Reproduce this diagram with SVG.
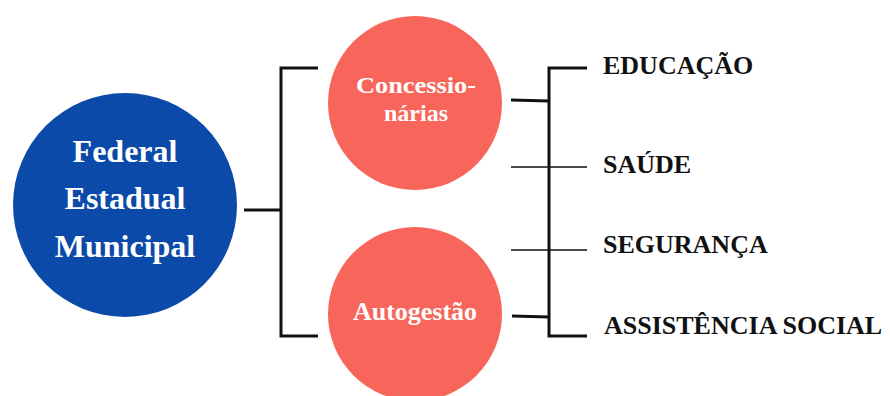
<svg xmlns="http://www.w3.org/2000/svg" width="890" height="396" viewBox="0 0 890 396">
<style>
.t{font-family:"Liberation Serif","Times New Roman",serif;font-weight:bold}
.w{fill:#fff}
.k{fill:#111;font-size:26px}
.thick{stroke:#111;stroke-width:3;fill:none}
.thin{stroke:#111;stroke-width:1.5;fill:none}
</style>
<rect width="890" height="396" fill="#fff"/>
<g id="connectors">
<path class="thick" d="M244 210H281M318 68H281V336H318"/>
<path class="thick" d="M587 68H549V336H587M511 100L549 101M512 316L549 317"/>
<path class="thin" d="M511 167H587M511 250H587"/>
</g>
<g id="gov">
<circle cx="125" cy="205" r="112" fill="#0B4AA8"/>
<text class="t w" font-size="32" text-anchor="middle"><tspan x="125" y="162">Federal</tspan><tspan x="125" y="209">Estadual</tspan><tspan x="125" y="257">Municipal</tspan></text>
</g>
<g id="concessionarias">
<circle cx="415" cy="103" r="87" fill="#F8655A"/>
<text class="t w" font-size="24" text-anchor="middle"><tspan x="416" y="93" textLength="120" lengthAdjust="spacingAndGlyphs">Concessio-</tspan><tspan x="416" y="121">nárias</tspan></text>
</g>
<g id="autogestao">
<circle cx="415" cy="314" r="87" fill="#F8655A"/>
<text class="t w" font-size="26" text-anchor="middle" x="415" y="320">Autogestão</text>
</g>
<g id="educacao"><text class="t k" x="603" y="74">EDUCAÇÃO</text></g>
<g id="saude"><text class="t k" x="603" y="173">SAÚDE</text></g>
<g id="seguranca"><text class="t k" x="603" y="253">SEGURANÇA</text></g>
<g id="assistencia"><text class="t k" x="604" y="334">ASSISTÊNCIA SOCIAL</text></g>
</svg>
